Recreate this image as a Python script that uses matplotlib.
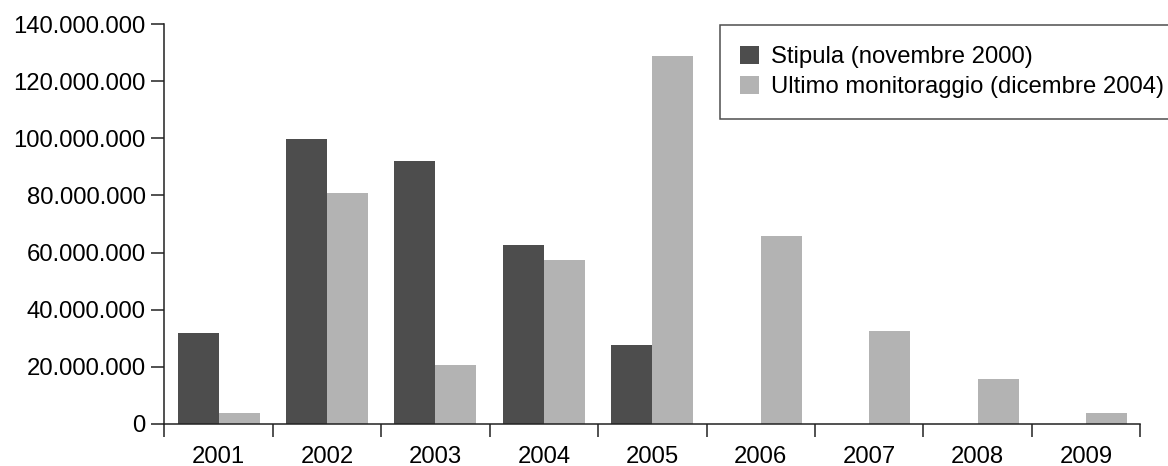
import matplotlib
matplotlib.use("Agg")
import matplotlib.pyplot as plt
from matplotlib.ticker import FuncFormatter, FixedLocator
import numpy as np

years = ["2001", "2002", "2003", "2004", "2005", "2006", "2007", "2008", "2009"]
stipula = [31.8e6, 99.8e6, 92.1e6, 62.7e6, 27.6e6, 0, 0, 0, 0]
monitoraggio = [3.75e6, 80.9e6, 20.6e6, 57.4e6, 128.9e6, 65.8e6, 32.5e6, 15.7e6, 3.75e6]
series_labels = ["Stipula (novembre 2000)", "Ultimo monitoraggio (dicembre 2004)"]
y_ticks = [0, 20e6, 40e6, 60e6, 80e6, 100e6, 120e6, 140e6]

plt.rcParams["font.family"] = ["Liberation Sans", "DejaVu Sans"]
FS_TICK = 17.2
FS_LEG = 17.2

W, H = 1168, 466
fig = plt.figure(figsize=(W / 100, H / 100), dpi=100)
ax = fig.add_axes([164.3 / W, 42.3 / H, (1140.3 - 164.3) / W, (423.7 - 24.3) / H])

x = np.arange(len(years))
bw = 0.378
dark, light = "#4d4d4d", "#b3b3b3"
b1 = ax.bar(x - bw / 2, stipula, bw, color=dark, label=series_labels[0])
b2 = ax.bar(x + bw / 2, monitoraggio, bw, color=light, label=series_labels[1])

ax.set_xlim(-0.5, len(years) - 0.5)
ax.set_ylim(0, 140e6)

def it_fmt(v, pos):
    return f"{int(round(v)):,}".replace(",", ".")

ax.yaxis.set_major_locator(FixedLocator(y_ticks))
ax.yaxis.set_major_formatter(FuncFormatter(it_fmt))

# ticks at category boundaries, labels centred under each category
ax.xaxis.set_major_locator(FixedLocator(np.arange(-0.5, len(years), 1.0)))
ax.xaxis.set_major_formatter(FuncFormatter(lambda v, p: ""))
ax.xaxis.set_minor_locator(FixedLocator(x))
ax.set_xticklabels(years, minor=True)
ax.tick_params(axis="x", which="minor", length=0, labelsize=FS_TICK, pad=16)
ax.tick_params(axis="x", which="major", length=9.4, width=1.1, direction="out", color="#222222")
ax.tick_params(axis="y", length=9.4, width=1.1, direction="out", labelsize=FS_TICK, pad=4, color="#222222")

for s in ("top", "right"):
    ax.spines[s].set_visible(False)
for s in ("left", "bottom"):
    ax.spines[s].set_linewidth(1.1)
    ax.spines[s].set_color("#222222")

leg = fig.legend(handles=[b1, b2], loc="upper left",
                 bbox_to_anchor=(719.7 / W, 1 - 25 / H), borderaxespad=0,
                 fontsize=FS_LEG, frameon=True, fancybox=False, edgecolor="#222222",
                 handlelength=0.8, handleheight=0.8, handletextpad=0.48,
                 labelspacing=0.32, borderpad=0.86)
leg.get_frame().set_linewidth(1.1)

fig.savefig("out.png", dpi=100)
